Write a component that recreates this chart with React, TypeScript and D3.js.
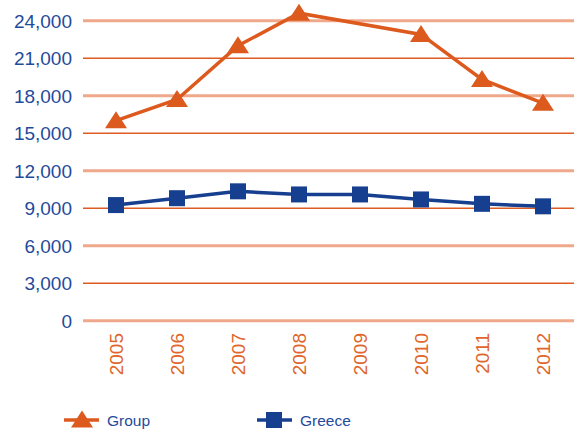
import React from "react";
import * as d3 from "d3";

const years = ["2005", "2006", "2007", "2008", "2009", "2010", "2011", "2012"];
const groupValues: (number | null)[] = [16000, 17700, 22000, 24600, null, 22900, 19300, 17400];
const greeceValues: (number | null)[] = [9250, 9800, 10350, 10100, 10100, 9700, 9350, 9150];
const yTicks = [0, 3000, 6000, 9000, 12000, 15000, 18000, 21000, 24000];

const W = 574;
const H = 429;
const ORANGE = "#DD5A1E";
const BLUE = "#173F8F";
const LABEL_BLUE = "#1F4B9B";
const GRID_LIGHT = "#EFA98A";
const GRID_DARK = "#DE5C22";
const FONT = "'Liberation Sans', Arial, Helvetica, sans-serif";

export default function App() {
  const x = d3.scalePoint<string>().domain(years).range([116, 543]);
  const y = d3.scaleLinear().domain([0, 24000]).range([320.7, 20.7]);
  const fmt = d3.format(",");

  const pts = (vals: (number | null)[]) =>
    years
      .map((yr, i) => ({ yr, v: vals[i] }))
      .filter((d) => d.v !== null) as { yr: string; v: number }[];

  const line = d3
    .line<{ yr: string; v: number }>()
    .x((d) => x(d.yr)!)
    .y((d) => y(d.v));

  const groupPts = pts(groupValues);
  const greecePts = pts(greeceValues);

  const tri = (cx: number, cy: number, w = 22, h = 17) =>
    `M${cx - w / 2},${cy + h / 2 - 1}L${cx + w / 2},${cy + h / 2 - 1}L${cx},${cy - h / 2 - 1}Z`;

  return (
    <svg
      width={W}
      height={H}
      style={{ position: "absolute", left: 0, top: 0, background: "#fff" }}
    >
      {/* horizontal grid, alternating light/dark */}
      {yTicks.map((t, i) => (
        <line
          key={t}
          x1={83}
          x2={W}
          y1={y(t)}
          y2={y(t)}
          stroke={i % 2 === 0 ? GRID_LIGHT : GRID_DARK}
          strokeWidth={i % 2 === 0 ? 3 : 1.5}
        />
      ))}
      {/* y tick labels */}
      {yTicks.map((t) => (
        <text
          key={t}
          x={72}
          y={y(t)}
          dy="0.36em"
          textAnchor="end"
          fontFamily={FONT}
          fontSize={19}
          fill={LABEL_BLUE}
        >
          {fmt(t)}
        </text>
      ))}
      {/* x labels, rotated */}
      {years.map((yr) => (
        <text
          key={yr}
          transform={`translate(${x(yr)! + 7},${333}) rotate(-90)`}
          textAnchor="end"
          fontFamily={FONT}
          fontSize={19}
          fill="#E0662C"
        >
          {yr}
        </text>
      ))}
      {/* Greece */}
      <path d={line(greecePts)!} fill="none" stroke={BLUE} strokeWidth={3.5} />
      {greecePts.map((d) => (
        <rect
          key={d.yr}
          x={x(d.yr)! - 8}
          y={y(d.v) - 8}
          width={16}
          height={16}
          fill={BLUE}
        />
      ))}
      {/* Group */}
      <path d={line(groupPts)!} fill="none" stroke={ORANGE} strokeWidth={3.5} />
      {groupPts.map((d) => (
        <path key={d.yr} d={tri(x(d.yr)!, y(d.v))} fill={ORANGE} />
      ))}
      {/* legend */}
      <line x1={64} x2={99} y1={420} y2={420} stroke={ORANGE} strokeWidth={3.5} />
      <path d={tri(82, 420)} fill={ORANGE} />
      <text x={107} y={420} dy="0.36em" fontFamily={FONT} fontSize={15.5} fill={LABEL_BLUE}>
        Group
      </text>
      <line x1={257} x2={292} y1={420} y2={420} stroke={BLUE} strokeWidth={3.5} />
      <rect x={266} y={412} width={16} height={16} fill={BLUE} />
      <text x={300} y={420} dy="0.36em" fontFamily={FONT} fontSize={15.5} fill={LABEL_BLUE}>
        Greece
      </text>
    </svg>
  );
}
